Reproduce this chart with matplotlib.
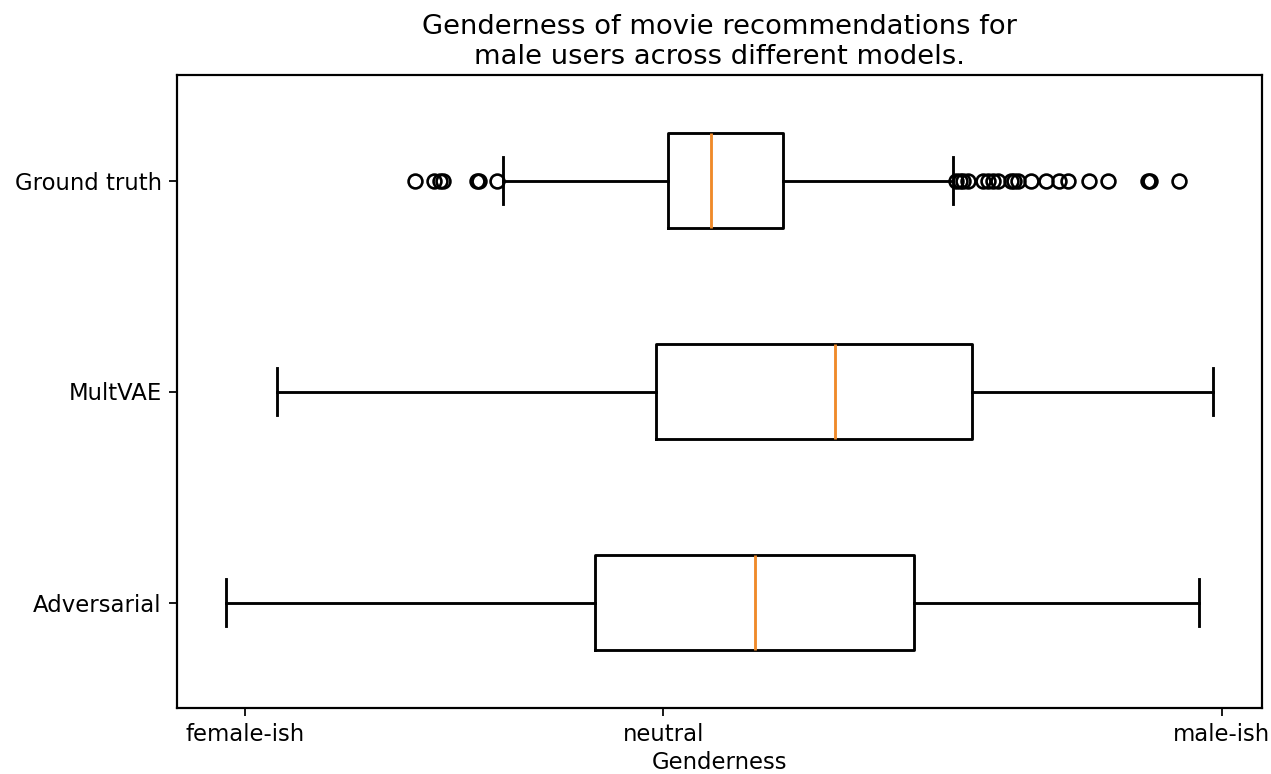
import matplotlib
matplotlib.use("Agg")
import matplotlib.pyplot as plt

# Data (genderness score; -0.75 = female-ish, 0 = neutral, 1 = male-ish)
models = ["Adversarial", "MultVAE", "Ground truth"]
whislo = [-0.783, -0.692, -0.287]
q1 = [-0.122, -0.013, 0.008]
med = [0.164, 0.307, 0.086]
q3 = [0.449, 0.552, 0.214]
whishi = [0.959, 0.984, 0.518]
fliers_adversarial = []
fliers_multvae = []
fliers_ground_truth = [-0.445, -0.411, -0.400, -0.395, -0.334, -0.330, -0.298,
                       0.524, 0.531, 0.537, 0.546, 0.573, 0.582, 0.591, 0.600,
                       0.623, 0.628, 0.636, 0.659, 0.686, 0.709, 0.725, 0.763,
                       0.797, 0.869, 0.871, 0.923]
tick_values = [-0.75, 0.0, 1.0]
tick_labels = ["female-ish", "neutral", "male-ish"]

fliers = [fliers_adversarial, fliers_multvae, fliers_ground_truth]
stats = []
for i, name in enumerate(models):
    stats.append(dict(label=name, whislo=whislo[i], q1=q1[i], med=med[i],
                      q3=q3[i], whishi=whishi[i], fliers=fliers[i]))

plt.rcParams['font.size'] = 10.4
DPI = 158
fig = plt.figure(figsize=(1271 / DPI, 774 / DPI), dpi=DPI)
ax = fig.add_axes([177 / 1271, 1 - 708 / 774, (1262 - 177) / 1271, (708 - 75) / 774])
lw = 1.3
ax.bxp(stats, positions=[1, 2, 3], widths=0.45, vert=False,
       boxprops=dict(linewidth=lw), whiskerprops=dict(linewidth=lw),
       capprops=dict(linewidth=lw), medianprops=dict(linewidth=lw, color='#ef8a2a'),
       flierprops=dict(markeredgewidth=1.2, markersize=6.3))
ax.set_ylim(0.5, 3.5)
ax.set_xticks(tick_values)
ax.set_xticklabels(tick_labels)
ax.set_xlabel("Genderness", labelpad=2)
ax.set_title("Genderness of movie recommendations for\nmale users across different models.",
             pad=5)
for s in ax.spines.values():
    s.set_linewidth(1.0)

fig.savefig("out.png", dpi=DPI)
